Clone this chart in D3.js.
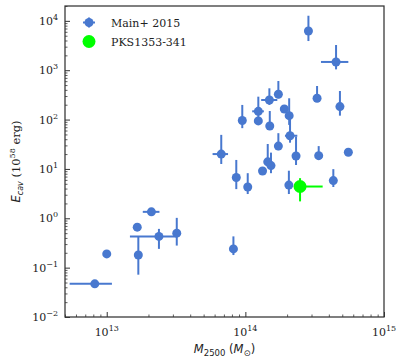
<!DOCTYPE html>
<html>
<head>
<meta charset="utf-8">
<script src="https://cdn.jsdelivr.net/npm/d3@7"></script>
<style>
  body { margin: 0; background: #fff; }
  svg text { font-family: "DejaVu Serif", serif; fill: #222; }
</style>
</head>
<body>
<div id="chart"></div>
<script>
// Main+ 2015 sample (M2500 in Msun, Ecav in 1e58 erg); null = no error bar
var mass   = [8.2e12, 1.0e13, 1.66e13, 2.1e13, 1.69e13, 2.38e13, 3.2e13, 8.2e13, 6.7e13, 8.6e13,
              1.04e14, 9.5e13, 1.24e14, 1.24e14, 1.49e14, 1.73e14, 1.5e14, 1.91e14, 2.07e14, 2.1e14,
              1.73e14, 2.32e14, 1.45e14, 1.53e14, 1.33e14, 2.06e14, 3.29e14, 4.81e14, 3.38e14, 5.53e14,
              4.31e14, 2.85e14, 4.51e14];
var massLo = [5.4e12, null, null, 1.82e13, null, 1.47e13, null, null, 5.8e13, null,
              null, null, 1.12e14, null, 1.30e14, null, null, null, null, 1.93e14,
              null, null, null, null, null, null, null, null, null, null,
              null, null, 3.51e14];
var massHi = [1.09e13, null, null, 2.4e13, null, 3.2e13, null, null, 7.5e13, null,
              null, null, 1.36e14, null, 1.70e14, null, null, null, null, 2.37e14,
              null, null, null, null, null, null, null, null, null, null,
              null, null, 5.53e14];
var ecav   = [0.047, 0.19, 0.66, 1.35, 0.18, 0.43, 0.5, 0.24, 20, 6.7,
              4.3, 96, 147, 94, 249, 325, 74, 164, 120, 47,
              29, 18.3, 13.9, 11.7, 9.1, 4.7, 270, 183, 18.6, 21.8,
              5.8, 6220, 1470];
var ecavLo = [null, null, null, null, 0.072, 0.24, 0.28, 0.18, 12.6, 3.9,
              3.1, 67, 94, null, 198, 270, 62, null, 78, 34,
              24, 12, 11.1, 8.2, null, 3.1, 227, 120, 15.2, null,
              4.3, 3900, 1040];
var ecavHi = [null, null, null, null, 0.43, 0.61, 1.02, 0.43, 49, 15.2,
              8.2, 198, 291, null, 430, 604, 149, null, 270, 108,
              53, 45, 32, 21.4, null, 9.2, 479, 379, 29, null,
              9.9, 12700, 3240];

// PKS1353-341
var pksMass = [2.48e14], pksMassLo = [2.4e14], pksMassHi = [3.61e14];
var pksEcav = [4.4], pksEcavLo = [2.2], pksEcavHi = [6.5];

var xDomain = [5e12, 1e15];
var yDomain = [1e-2, 2e4];
var xMajor = [13, 14, 15];
var yMajor = [-2, -1, 0, 1, 2, 3, 4];

var blue = "#4878cf", green = "#00ff00";

var width = 405, height = 363;
var margin = { top: 6, right: 21, bottom: 46, left: 65 };
var w = width - margin.left - margin.right;
var h = height - margin.top - margin.bottom;

var svg = d3.select("#chart").append("svg")
  .attr("width", width).attr("height", height);
var g = svg.append("g")
  .attr("transform", "translate(" + margin.left + "," + margin.top + ")");

var x = d3.scaleLog().domain(xDomain).range([0, w]);
var y = d3.scaleLog().domain(yDomain).range([h, 0]);

function rows(m, mLo, mHi, e, eLo, eHi) {
  return m.map(function (d, i) {
    return { m: d, mLo: mLo[i], mHi: mHi[i], e: e[i], eLo: eLo[i], eHi: eHi[i] };
  });
}
var main = rows(mass, massLo, massHi, ecav, ecavLo, ecavHi);
var pks = rows(pksMass, pksMassLo, pksMassHi, pksEcav, pksEcavLo, pksEcavHi);

// ticks, pointing inward
function minorTicks(scale) {
  return scale.ticks().filter(function (v) {
    var l = Math.log10(v);
    return Math.abs(l - Math.round(l)) > 1e-6;
  });
}
var xMaj = xMajor.map(function (p) { return Math.pow(10, p); });
var yMaj = yMajor.map(function (p) { return Math.pow(10, p); });

g.append("g").attr("transform", "translate(0," + h + ")")
  .call(d3.axisBottom(x).tickValues(xMaj).tickSize(-5).tickFormat(""))
  .call(function (a) { a.select(".domain").remove(); a.selectAll("line").attr("stroke", "#333").attr("stroke-width", 1); });
g.append("g").attr("transform", "translate(0," + h + ")")
  .call(d3.axisBottom(x).tickValues(minorTicks(x)).tickSize(-2.5).tickFormat(""))
  .call(function (a) { a.select(".domain").remove(); a.selectAll("line").attr("stroke", "#333").attr("stroke-width", 0.8); });
g.append("g")
  .call(d3.axisLeft(y).tickValues(yMaj).tickSize(-5).tickFormat(""))
  .call(function (a) { a.select(".domain").remove(); a.selectAll("line").attr("stroke", "#333").attr("stroke-width", 1); });
g.append("g")
  .call(d3.axisLeft(y).tickValues(minorTicks(y)).tickSize(-2.5).tickFormat(""))
  .call(function (a) { a.select(".domain").remove(); a.selectAll("line").attr("stroke", "#333").attr("stroke-width", 0.8); });

// tick labels as 10^n
xMajor.forEach(function (p) {
  var t = g.append("text").attr("x", x(Math.pow(10, p))).attr("y", h + 19)
    .attr("text-anchor", "middle").attr("font-size", 11);
  t.append("tspan").text("10");
  t.append("tspan").attr("dy", -5).attr("font-size", 8).text(p);
});
yMajor.forEach(function (p) {
  var t = g.append("text").attr("x", -7).attr("y", y(Math.pow(10, p)) + 4)
    .attr("text-anchor", "end").attr("font-size", 11);
  t.append("tspan").text("10");
  t.append("tspan").attr("dy", -5).attr("font-size", 8).text(p < 0 ? "\u2212" + (-p) : p);
});

// frame
g.append("rect").attr("width", w).attr("height", h)
  .attr("fill", "none").attr("stroke", "#333").attr("stroke-width", 1.25);

// error bars + markers
function drawSeries(data, color, r) {
  var s = g.append("g");
  s.selectAll(".xe").data(data.filter(function (d) { return d.mLo != null; }))
    .enter().append("line")
    .attr("x1", function (d) { return x(d.mLo); }).attr("x2", function (d) { return x(d.mHi); })
    .attr("y1", function (d) { return y(d.e); }).attr("y2", function (d) { return y(d.e); })
    .attr("stroke", color).attr("stroke-width", 2);
  s.selectAll(".ye").data(data.filter(function (d) { return d.eLo != null; }))
    .enter().append("line")
    .attr("x1", function (d) { return x(d.m); }).attr("x2", function (d) { return x(d.m); })
    .attr("y1", function (d) { return y(d.eLo); }).attr("y2", function (d) { return y(d.eHi); })
    .attr("stroke", color).attr("stroke-width", 2);
  s.selectAll("circle").data(data).enter().append("circle")
    .attr("cx", function (d) { return x(d.m); })
    .attr("cy", function (d) { return y(d.e); })
    .attr("r", r).attr("fill", color);
}
drawSeries(main, blue, 4.5);
drawSeries(pks, green, 6.5);

// legend
var leg = svg.append("g").attr("transform", "translate(89,22.5)");
leg.append("line").attr("x1", -6).attr("x2", 6).attr("stroke", blue).attr("stroke-width", 2);
leg.append("line").attr("y1", -5).attr("y2", 5).attr("stroke", blue).attr("stroke-width", 2);
leg.append("circle").attr("r", 4.5).attr("fill", blue);
leg.append("text").attr("x", 22).attr("y", 4).attr("font-size", 11).text("Main+ 2015");
leg.append("circle").attr("cy", 19).attr("r", 6.5).attr("fill", green);
leg.append("text").attr("x", 22).attr("y", 23).attr("font-size", 11).text("PKS1353-341");

// axis labels
var xl = svg.append("text").attr("x", margin.left + w / 2).attr("y", 353)
  .attr("text-anchor", "middle").attr("font-size", 11.5)
  .style("font-family", "DejaVu Sans");
xl.append("tspan").attr("font-style", "italic").text("M");
xl.append("tspan").attr("dy", 2.5).attr("font-size", 8.5).text("2500");
xl.append("tspan").attr("dy", -2.5).text(" (");
xl.append("tspan").attr("font-style", "italic").text("M");
xl.append("tspan").attr("dy", 2.5).attr("font-size", 8.5).text("\u2299");
xl.append("tspan").attr("dy", -2.5).text(")");

var yl = svg.append("text")
  .attr("transform", "translate(20," + (margin.top + h / 2) + ") rotate(-90)")
  .attr("text-anchor", "middle").attr("font-size", 11.5);
yl.append("tspan").attr("font-style", "italic").style("font-family", "DejaVu Sans").text("E");
yl.append("tspan").attr("dy", 3).attr("font-size", 8).attr("font-style", "italic")
  .style("font-family", "DejaVu Sans").text("cav");
yl.append("tspan").attr("dy", -3).text(" (10");
yl.append("tspan").attr("dy", -5).attr("font-size", 8).text("58");
yl.append("tspan").attr("dy", 5).text(" erg)");
</script>
</body>
</html>
